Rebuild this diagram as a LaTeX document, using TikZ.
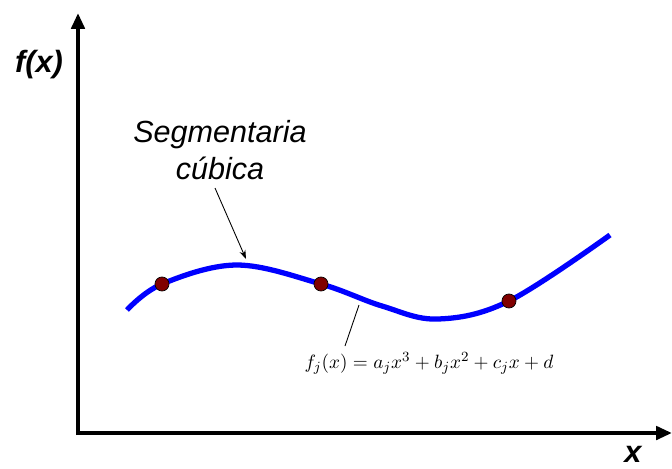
\documentclass[tikz,border=0pt]{standalone}
\usepackage{fontspec}
\setmainfont{Liberation Serif}
\setsansfont{Liberation Sans}
\usetikzlibrary{arrows.meta}
\begin{document}
\begin{tikzpicture}[x=0.02cm,y=-0.02cm,
  axis/.style={line width=2.3pt,-{Triangle[length=9pt,width=7.5pt]}},
  curve/.style={line width=3pt,color=blue},
  knot/.style={circle,fill={rgb,255:red,128;green,0;blue,0},draw=black,line width=0.4pt,minimum size=8pt,inner sep=0pt},
  lbl/.style={font=\sffamily\itshape\fontsize{17.4}{21}\selectfont,align=center,inner sep=0pt},
  axlbl/.style={font=\sffamily\bfseries\itshape\fontsize{17.5}{21}\selectfont,inner sep=0pt},
  pointer/.style={line width=0.5pt,-{Stealth[length=5pt,width=3.5pt]}}]
\useasboundingbox (0,0) rectangle (672,468);
\coordinate (ytop) at (78,13);
\coordinate (xend) at (672,433);
\draw[axis] (78,435) -- (ytop);
\draw[axis] (76,433) -- (xend);
\node[axlbl] (fx) at (39,65) {f(x)};
\node[axlbl,anchor=base] (xl) at (633,462) {x};
\draw[curve] plot[smooth,tension=0.6] coordinates {(127,310) (162,284) (237,265) (321,284) (382,306) (438,319) (509,301) (610,235)};
\node[knot] (k1) at (162,284) {};
\node[knot] (k2) at (321,284) {};
\node[knot] (k3) at (509,301) {};
\node[lbl] (seg) at (220,150) {Segmentaria\\cúbica};
\coordinate (c1) at (246,259);
\draw[pointer] (215,188) -- (c1);
\node[inner sep=0pt,font=\fontsize{11}{13}\selectfont] (fj) at (429,363) {$f_{j}(x) = a_{j}x^{3} + b_{j}x^{2} + c_{j}x + d$};
\coordinate (c2) at (359,305);
\draw[line width=0.5pt] (c2) -- (345,346);
\end{tikzpicture}
\end{document}
